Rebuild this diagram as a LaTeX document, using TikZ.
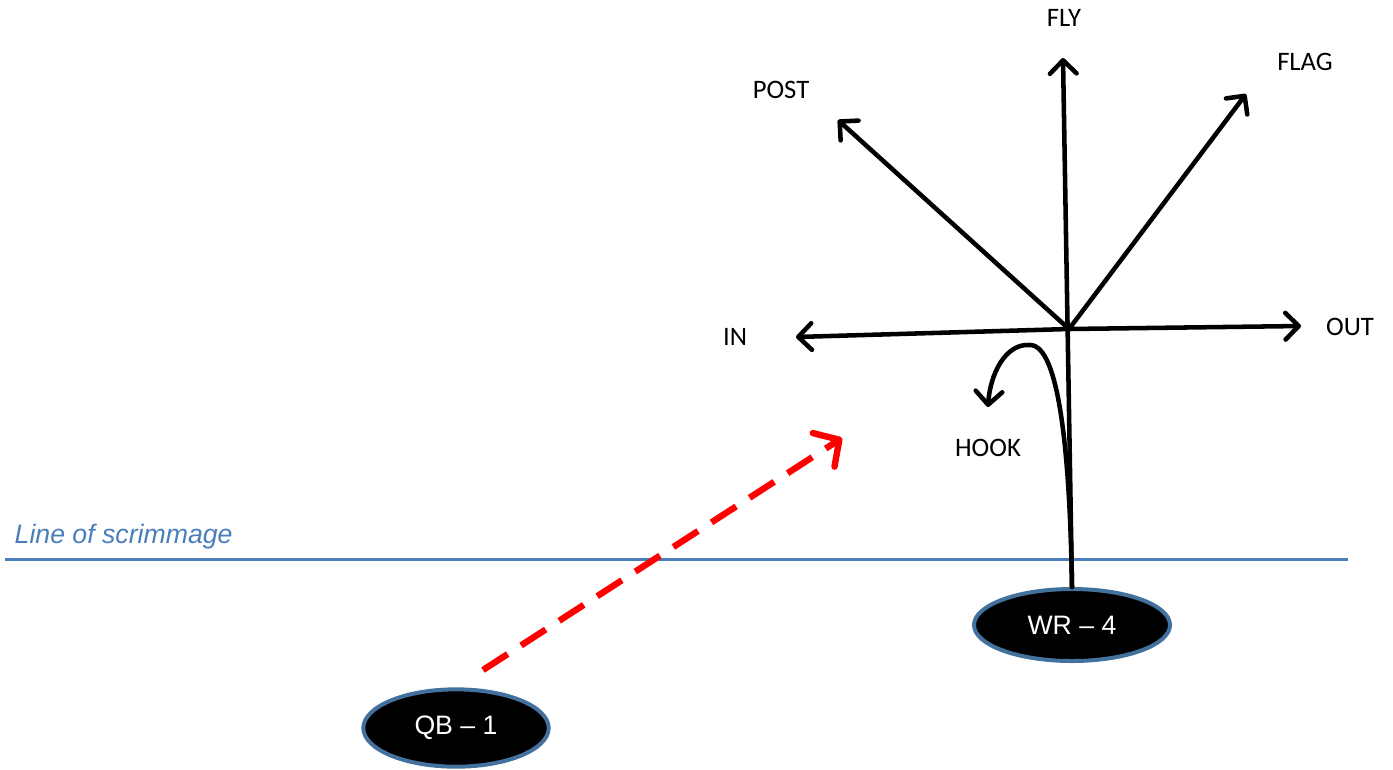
\documentclass[tikz,border=0pt]{standalone}
\usepackage{fontspec}
\setmainfont{Carlito}
\newfontfamily\arialfont{Liberation Sans}
\usetikzlibrary{positioning, calc, arrows.meta, shapes.geometric}
\definecolor{losblue}{HTML}{4A7EBB}
\definecolor{rimblue}{HTML}{41719C}

\begin{document}
\begin{tikzpicture}
    [x=0.75pt, y=-0.75pt,
    playernode/.style={ellipse, fill=black, draw=rimblue, line width=3pt, text=white, inner sep=0pt,
        font=\arialfont\fontsize{20}{24}\selectfont},
    routelabel/.style={font=\fontsize{20}{24}\selectfont},
    route/.style={line width=3.4pt, line cap=round, -{Straight Barb[length=10pt, width=20pt, line cap=round, line join=round]}},
    pass/.style={red, line width=4.8pt, dash pattern=on 22pt off 12pt, -{Straight Barb[length=14pt, width=30pt, line cap=round, line join=round]}},]

    \useasboundingbox (0,0) rectangle (1393,769);

    %Line of scrimmage
    \coordinate (loswest) at (5,559);
    \coordinate (loseast) at (1348,559);
    \draw[losblue, line width=2.25pt](loswest)--(loseast);
    \node(loslabel)[anchor=base west, text=losblue, font=\arialfont\itshape\fontsize{20}{24}\selectfont] at (10,543) {Line of scrimmage};

    %Players
    \node[playernode, minimum width=147pt, minimum height=54pt](wr) at (1072,625) {WR – 4};
    \node[playernode, minimum width=139pt, minimum height=58pt](qb) at (456,728) {QB – 1};

    %Route tree
    \coordinate (break) at (1069,329);
    \coordinate (flytip) at (1063,58);
    \coordinate (posttip) at (838,120);
    \coordinate (flagtip) at (1246,94);
    \coordinate (intip) at (796,337);
    \coordinate (outtip) at (1301,326);
    \coordinate (hooktip) at (988,407);

    \draw[route](wr.north)--(flytip);
    \draw[route](break)--(posttip);
    \draw[route](break)--(flagtip);
    \draw[route](break)--(intip);
    \draw[route](break)--(outtip);
    \draw[route](wr.north) .. controls (1070,460) and (1060,345) .. (1030,345)
        .. controls (1005,343) and (990,375) .. (hooktip);

    %Labels
    \node[routelabel](fly) at (1064,18) {FLY};
    \node[routelabel](flag) at (1305,62) {FLAG};
    \node[routelabel](post) at (781,90) {POST};
    \node[routelabel](in) at (735,337) {IN};
    \node[routelabel](out) at (1350,327) {OUT};
    \node[routelabel](hook) at (988,448) {HOOK};

    %Pass
    \coordinate (release) at (483,670);
    \coordinate (target) at (842,438);
    \draw[pass](release)--(target);

\end{tikzpicture}
\end{document}
